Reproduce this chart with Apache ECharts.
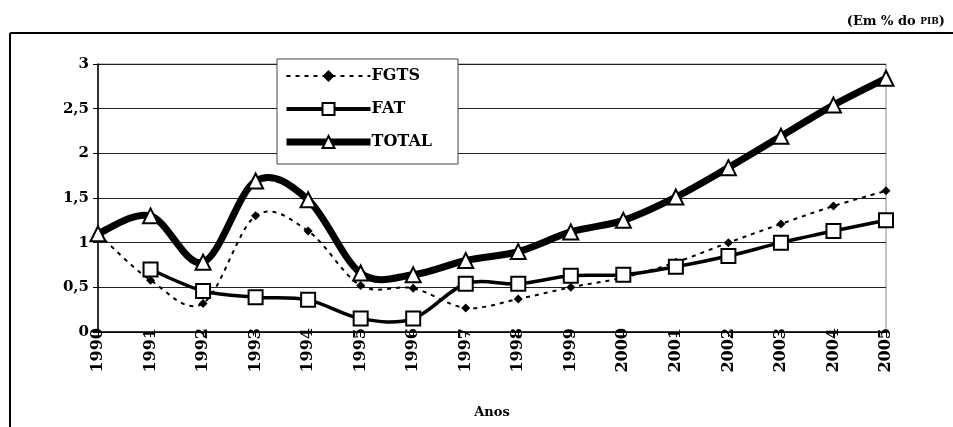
<!DOCTYPE html>
<html>
<head>
<meta charset="utf-8">
<script src="https://cdn.jsdelivr.net/npm/echarts@6/dist/echarts.min.js"></script>
<style>
  html, body { margin: 0; padding: 0; background: #fff; }
  #root1 { width: 953px; height: 427px; }
</style>
</head>
<body>
<div id="root1"></div>
<script>
const years = ['1990', '1991', '1992', '1993', '1994', '1995', '1996', '1997',
  '1998', '1999', '2000', '2001', '2002', '2003', '2004', '2005'];
const fgts = [1.1, 0.58, 0.32, 1.3, 1.13, 0.52, 0.49, 0.27, 0.37, 0.5, 0.61, 0.78, 1.0, 1.21, 1.41, 1.58];
const fat = [null, 0.7, 0.46, 0.39, 0.36, 0.15, 0.15, 0.54, 0.54, 0.63, 0.64, 0.73, 0.85, 1.0, 1.13, 1.25];
const total = [1.1, 1.3, 0.78, 1.69, 1.48, 0.66, 0.64, 0.8, 0.9, 1.12, 1.25, 1.51, 1.84, 2.19, 2.54, 2.84];
const yTicks = ['0', '0,5', '1', '1,5', '2', '2,5', '3'];

const serif = 'DejaVu Serif';
const chartDom = document.getElementById('root1');
const myChart = echarts.init(chartDom);

// Excel style smoothed line (Catmull-Rom, can overshoot unlike echarts' clamped smoothing)
function smoothCurve(values, lineStyle) {
  return function (params, api) {
    if (params.dataIndex !== values.length - 1) return null;
    const pts = [];
    values.forEach(function (v, i) {
      if (v != null) pts.push(api.coord([i, v]));
    });
    let d = 'M' + pts[0][0] + ' ' + pts[0][1];
    for (let i = 0; i < pts.length - 1; i++) {
      const p0 = pts[i - 1] || pts[i];
      const p1 = pts[i];
      const p2 = pts[i + 1];
      const p3 = pts[i + 2] || p2;
      const c1x = p1[0] + (p2[0] - p0[0]) / 6;
      const c1y = p1[1] + (p2[1] - p0[1]) / 6;
      const c2x = p2[0] - (p3[0] - p1[0]) / 6;
      const c2y = p2[1] - (p3[1] - p1[1]) / 6;
      d += ' C' + c1x + ' ' + c1y + ' ' + c2x + ' ' + c2y + ' ' + p2[0] + ' ' + p2[1];
    }
    return {
      type: 'path',
      shape: { pathData: d },
      style: Object.assign({ fill: null, stroke: '#000', lineJoin: 'round' }, lineStyle)
    };
  };
}

function curveSeries(name, values, lineStyle) {
  return {
    name: name,
    type: 'custom',
    data: values.map(function (v, i) { return [i, v == null ? 0 : v]; }),
    renderItem: smoothCurve(values, lineStyle),
    silent: true,
    clip: false,
    z: 2
  };
}

function markSeries(name, values, symbol, size, itemStyle) {
  return {
    name: name,
    type: 'line',
    data: values,
    symbol: symbol,
    symbolSize: size,
    showAllSymbol: true,
    lineStyle: { opacity: 0 },
    itemStyle: itemStyle,
    z: 3
  };
}

const option = {
  animation: false,
  title: {
    text: '(Em % do {s|PIB})',
    right: 3,
    top: 10,
    textStyle: {
      fontFamily: serif,
      fontWeight: 'bold',
      fontSize: 13,
      color: '#000',
      rich: {
        s: { fontFamily: serif, fontWeight: 'bold', fontSize: 9, color: '#000' }
      }
    }
  },
  graphic: [
    { type: 'line', shape: { x1: 10, y1: 33, x2: 953, y2: 33 }, style: { stroke: '#000', lineWidth: 2 } },
    { type: 'line', shape: { x1: 10, y1: 33, x2: 10, y2: 427 }, style: { stroke: '#000', lineWidth: 2 } }
  ],
  grid: {
    left: 98,
    right: 67,
    top: 64,
    bottom: 95,
    show: true,
    borderColor: '#888',
    borderWidth: 1
  },
  legend: {
    orient: 'vertical',
    left: 277,
    top: 59,
    padding: [9, 26, 14, 6],
    itemWidth: 84,
    itemHeight: 15,
    itemGap: 17,
    backgroundColor: '#fff',
    borderColor: '#444',
    borderWidth: 1,
    z: 10,
    textStyle: { fontFamily: serif, fontWeight: 'bold', fontSize: 16, color: '#000', padding: [4, 0, 0, -4] },
    data: [
      { name: 'FGTS', lineStyle: { color: '#000', width: 2, type: [4, 5], opacity: 1 } },
      { name: 'FAT', lineStyle: { color: '#000', width: 4, type: 'solid', opacity: 1 } },
      { name: 'TOTAL', lineStyle: { color: '#000', width: 7, type: 'solid', opacity: 1 } }
    ]
  },
  xAxis: {
    type: 'category',
    data: years,
    boundaryGap: false,
    name: 'Anos',
    nameLocation: 'middle',
    nameGap: 74,
    nameTextStyle: { fontFamily: serif, fontWeight: 'bold', fontSize: 13, color: '#000' },
    axisLine: { lineStyle: { color: '#000', width: 1.5 } },
    axisTick: { show: true, length: 5, lineStyle: { color: '#000' } },
    axisLabel: {
      rotate: 90,
      margin: -4,
      fontFamily: serif,
      fontWeight: 'bold',
      fontSize: 16,
      color: '#000',
      interval: 0
    }
  },
  yAxis: {
    type: 'value',
    min: 0,
    max: 3,
    interval: 0.5,
    axisLine: { show: true, lineStyle: { color: '#000', width: 1.5 } },
    axisTick: { show: true, length: 5, lineStyle: { color: '#000' } },
    axisLabel: {
      fontFamily: serif,
      fontWeight: 'bold',
      fontSize: 15,
      color: '#000',
      margin: 9,
      formatter: function (v) { return yTicks[Math.round(v * 2)]; }
    },
    splitLine: { lineStyle: { color: '#222', width: 1 } }
  },
  series: [
    curveSeries('FGTS curve', fgts, { lineWidth: 2, lineDash: [4, 5] }),
    curveSeries('FAT curve', fat, { lineWidth: 3.5 }),
    curveSeries('TOTAL curve', total, { lineWidth: 7 }),
    markSeries('FGTS', fgts, 'diamond', 9, { color: '#000' }),
    markSeries('FAT', fat, 'rect', 14, { color: '#fff', borderColor: '#000', borderWidth: 2 }),
    markSeries('TOTAL', total, 'triangle', 15, { color: '#fff', borderColor: '#000', borderWidth: 2 })
  ]
};

myChart.setOption(option);
</script>
</body>
</html>
